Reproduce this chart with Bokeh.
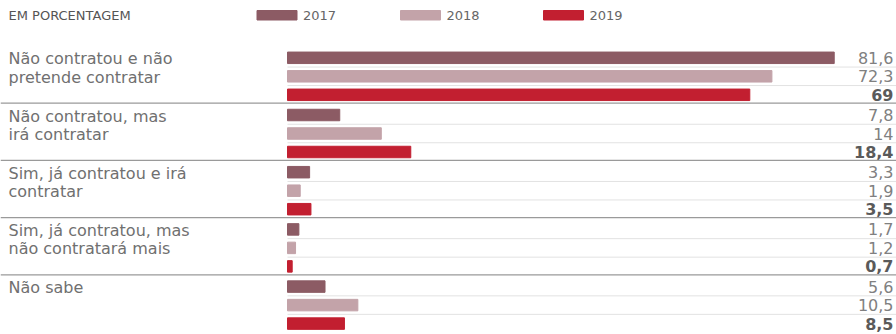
from bokeh.plotting import figure
from bokeh.models import ColumnDataSource, Range1d
from bokeh.core.properties import value
from bokeh.embed import file_html
from bokeh.resources import INLINE

# ---- data ----
categories = [
    "Não contratou e não\npretende contratar",
    "Não contratou, mas\nirá contratar",
    "Sim, já contratou e irá\ncontratar",
    "Sim, já contratou, mas\nnão contratará mais",
    "Não sabe",
]
years = ["2017", "2018", "2019"]
v2017 = [81.6, 7.8, 3.3, 1.7, 5.6]
v2018 = [72.3, 14.0, 1.9, 1.2, 10.5]
v2019 = [69.0, 18.4, 3.5, 0.7, 8.5]
labels2017 = ["81,6", "7,8", "3,3", "1,7", "5,6"]
labels2018 = ["72,3", "14", "1,9", "1,2", "10,5"]
labels2019 = ["69", "18,4", "3,5", "0,7", "8,5"]
caption = "EM PORCENTAGEM"

# ---- styling / layout ----
colors = ["#8c5b64", "#c3a3a9", "#c21f30"]
W, H = 896, 334
X0 = 287.0          # screen x where bars start
SCALE = 6.70        # px per percentage point
FONT = value("DejaVu Sans")
TEXT_GRAY = "#707070"

def px(xs):  # screen x -> data x
    return (xs - X0) / SCALE

p = figure(width=W, height=H, output_backend="svg", toolbar_location=None,
           x_range=Range1d(px(0), px(W)), y_range=Range1d(H, 0),
           min_border=0, outline_line_color=None)
p.axis.visible = False
p.grid.visible = False

GROUP_TOP = 57.3
GROUP_PITCH = 57.2
BAR_PITCH = 18.5
BAR_H = 11.5

series = [v2017, v2018, v2019]
series_labels = [labels2017, labels2018, labels2019]

# bars
for j, (vals, lbls) in enumerate(zip(series, series_labels)):
    ys = [GROUP_TOP + g * GROUP_PITCH + j * BAR_PITCH for g in range(len(categories))]
    src = ColumnDataSource(dict(y=ys, v=vals, lbl=lbls))
    p.hbar(y="y", left=0, right="v", height=BAR_H, color=colors[j], source=src)
    p.text(x=px(893), y="y", text="lbl", source=src, text_align="right",
           text_baseline="middle", text_font=FONT, text_font_size="16px",
           text_color="#5a5a5a" if j == 2 else "#808080",
           text_font_style="bold" if j == 2 else "normal")

# thin light lines between bar rows, darker group separators
for g in range(len(categories)):
    for j in range(2):
        yline = GROUP_TOP + g * GROUP_PITCH + j * BAR_PITCH + BAR_PITCH / 2
        p.segment(x0=0, x1=px(W), y0=yline, y1=yline, line_color="#e2e2e2", line_width=1)
    if g > 0:
        ysep = GROUP_TOP + g * GROUP_PITCH - 11.8
        p.segment(x0=px(0), x1=px(W), y0=ysep, y1=ysep, line_color="#9a9a9a", line_width=1.2)

# category labels (one text per line, aligned with bar rows)
lx, ly, lt = [], [], []
for g, cat in enumerate(categories):
    for j, line in enumerate(cat.split("\n")):
        lx.append(px(8))
        ly.append(GROUP_TOP + g * GROUP_PITCH + j * BAR_PITCH + 1)
        lt.append(line)
p.text(x=lx, y=ly, text=lt, text_align="left", text_baseline="middle",
       text_font=FONT, text_font_size="16px", text_color=TEXT_GRAY)

# header: caption + legend
p.text(x=[px(8)], y=[15], text=[caption], text_baseline="middle", text_font=FONT,
       text_font_size="13px", text_color="#555555")
sw_left = [256.5, 400.0, 543.0]
for j, yr in enumerate(years):
    p.quad(left=px(sw_left[j]), right=px(sw_left[j] + 40), top=10, bottom=19.5,
           color=colors[j])
    p.text(x=[px(sw_left[j] + 46)], y=[15], text=[yr], text_baseline="middle",
           text_font=FONT, text_font_size="13px", text_color="#666666")

open("out.html", "w").write(file_html(p, INLINE))
